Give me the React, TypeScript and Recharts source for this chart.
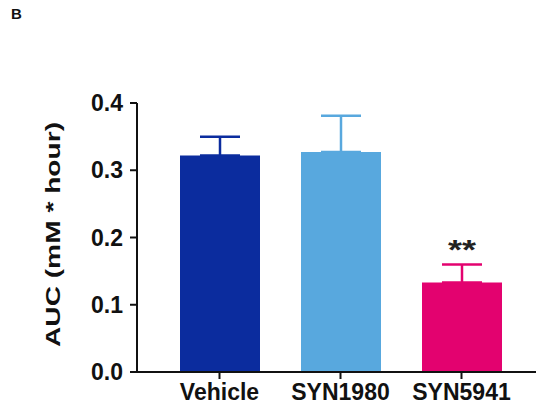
import React from 'react';
import { BarChart, Bar, XAxis, YAxis, ErrorBar, LabelList, Label } from 'recharts';

const categories = ['Vehicle', 'SYN1980', 'SYN5941'];
const means = [0.322, 0.327, 0.133];
const sems = [0.028, 0.054, 0.027];
const significance = ['', '', '**'];
const colors = ['#0b2c9e', '#58a8de', '#e3026f'];
const yTicks = [0, 0.1, 0.2, 0.3, 0.4];

const FONT = '"Liberation Sans", Arial, Helvetica, sans-serif';

const data = categories.map((name, i) => {
  const row: Record<string, unknown> = { name, sig: significance[i] };
  row[`v${i}`] = means[i];
  row[`e${i}`] = [0, sems[i]];
  return row;
});

const YLabel = (props: any) => {
  const vb = props.viewBox || { x: 0, y: 0, width: 0, height: 0 };
  const cx = 52;
  const cy = vb.y + vb.height / 2 - 3;
  return (
    <text
      x={cx}
      y={cy}
      transform={`rotate(-90, ${cx}, ${cy})`}
      textAnchor="middle"
      dominantBaseline="central"
      fontFamily={FONT}
      fontWeight="bold"
      fontSize={21}
      fill="#111"
      textLength={225}
      lengthAdjust="spacingAndGlyphs"
    >
      AUC (mM * hour)
    </text>
  );
};

const SigLabel = (props: any) => {
  const { x, y, width, value } = props;
  if (!value) return null;
  return (
    <text
      x={x + width / 2}
      y={y - 24}
      textAnchor="middle"
      fontFamily={FONT}
      fontWeight="bold"
      fontSize={28}
      fill="#222"
      textLength={28}
      lengthAdjust="spacingAndGlyphs"
    >
      {value}
    </text>
  );
};

export default function App() {
  return (
    <div style={{ position: 'absolute', left: 0, top: 0, width: 538, height: 415, background: '#fff' }}>
      <div
        style={{
          position: 'absolute',
          left: 11,
          top: 5,
          fontFamily: FONT,
          fontWeight: 'bold',
          fontSize: 15,
          color: '#111',
        }}
      >
        B
      </div>
      <BarChart
        width={538}
        height={415}
        data={data}
        margin={{ top: 103, right: 2, bottom: 3, left: 0 }}
        barSize={80}
      >
        <XAxis
          dataKey="name"
          interval={0}
          padding={{ left: 22, right: 14 }}
          height={40}
          axisLine={{ stroke: '#111', strokeWidth: 2 }}
          tickLine={{ stroke: '#111', strokeWidth: 2 }}
          tickSize={7}
          tickMargin={5}
          tick={{ fontFamily: FONT, fontWeight: 'bold', fontSize: 23, fill: '#111' }}
        />
        <YAxis
          width={137}
          domain={[0, 0.4]}
          ticks={yTicks}
          interval={0}
          tickFormatter={(v: number) => v.toFixed(1)}
          axisLine={{ stroke: '#111', strokeWidth: 2 }}
          tickLine={{ stroke: '#111', strokeWidth: 2 }}
          tickSize={7}
          tickMargin={7}
          tick={{ fontFamily: FONT, fontWeight: 'bold', fontSize: 23, fill: '#111' }}
        >
          <Label content={<YLabel />} />
        </YAxis>
        {categories.map((c, i) => (
          <Bar
            key={c}
            dataKey={`v${i}`}
            stackId="a"
            fill={colors[i]}
            isAnimationActive={false}
          >
            <ErrorBar
              dataKey={`e${i}`}
              width={20}
              stroke={colors[i]}
              strokeWidth={2.5}
              direction="y"
            />
            {i === 2 ? <LabelList dataKey="sig" content={<SigLabel />} /> : null}
          </Bar>
        ))}
      </BarChart>
    </div>
  );
}
